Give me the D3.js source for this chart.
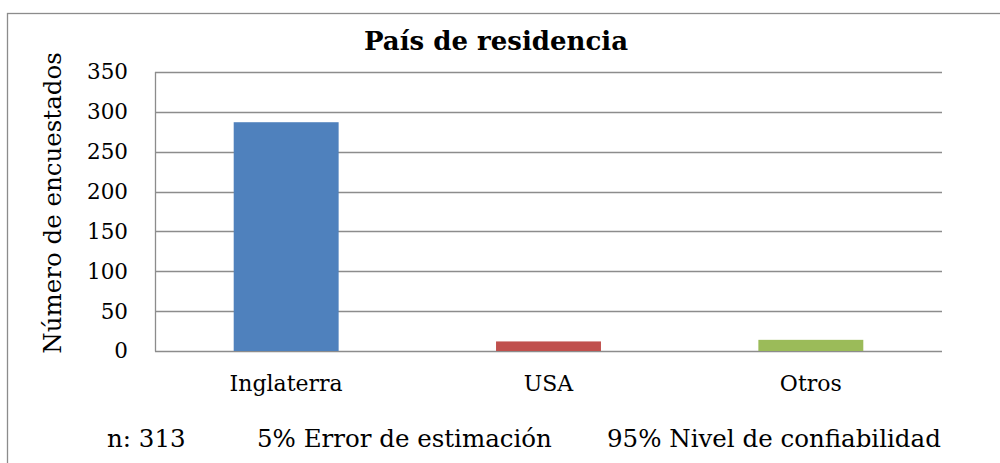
<!DOCTYPE html>
<html><head><meta charset="utf-8">
<script src="https://cdn.jsdelivr.net/npm/d3@7"></script>
<style>body{margin:0;background:#fff}svg{display:block}</style>
</head><body><div id="chart"></div>
<script>
const categories = ["Inglaterra", "USA", "Otros"];
const values = [287, 12, 14];
const colors = ["#4F81BD", "#C0504D", "#9BBB59"];
const yTicks = [0, 50, 100, 150, 200, 250, 300, 350];
const title = "País de residencia";
const yLabel = "Número de encuestados";
const footer = ["n: 313", "5% Error de estimación", "95% Nivel de confiabilidad"];

const W = 1000, H = 463;
const font = "'DejaVu Serif', serif";
const svg = d3.select("#chart").append("svg").attr("width", W).attr("height", H);

// outer frame (extends past right/bottom edges)
svg.append("rect").attr("x", 7.5).attr("y", 13.5).attr("width", 1100).attr("height", 600)
  .attr("fill", "none").attr("stroke", "#8c8c8c").attr("stroke-width", 1.3);

const x = d3.scaleBand().domain(categories).range([155, 942]).paddingInner(0.6).paddingOuter(0.3);
const y = d3.scaleLinear().domain([0, 350]).range([351, 72]);

// gridlines
svg.append("g").selectAll("line").data(yTicks).join("line")
  .attr("x1", 155).attr("x2", 942)
  .attr("y1", d => Math.round(y(d)) + 0.5).attr("y2", d => Math.round(y(d)) + 0.5)
  .attr("stroke", "#8c8c8c").attr("stroke-width", 1.3);

// bars
svg.append("g").selectAll("rect").data(values).join("rect")
  .attr("x", (d, i) => x(categories[i]))
  .attr("width", x.bandwidth())
  .attr("y", d => y(d))
  .attr("height", d => y(0) - y(d))
  .attr("fill", (d, i) => colors[i]);

// y axis
const yAxis = d3.axisLeft(y).tickValues(yTicks).tickSize(0).tickPadding(27);
const gy = svg.append("g").attr("transform", "translate(155,0)").call(yAxis);
gy.select(".domain").attr("stroke", "#8c8c8c").attr("stroke-width", 1.3).attr("d", "M0.5,72V351.5");
gy.selectAll("text").attr("font-family", font).attr("font-size", 21.5).attr("fill", "#000");

// x axis labels
const xAxis = d3.axisBottom(x).tickSize(0).tickPadding(24);
const gx = svg.append("g").attr("transform", "translate(0,351)").call(xAxis);
gx.select(".domain").remove();
gx.selectAll("text").attr("font-family", font).attr("font-size", 22).attr("fill", "#000");

// title
svg.append("text").attr("x", 496).attr("y", 50).attr("text-anchor", "middle")
  .attr("font-family", font).attr("font-weight", "bold").attr("font-size", 26).text(title);

// y label
svg.append("text").attr("transform", "translate(61,203) rotate(-90)").attr("text-anchor", "middle")
  .attr("font-family", font).attr("font-size", 24.5).text(yLabel);

// footer
const footerX = [107, 257, 607];
svg.append("g").selectAll("text").data(footer).join("text")
  .attr("x", (d, i) => footerX[i]).attr("y", 447)
  .attr("font-family", font).attr("font-size", 24.5).text(d => d);
</script></body></html>
